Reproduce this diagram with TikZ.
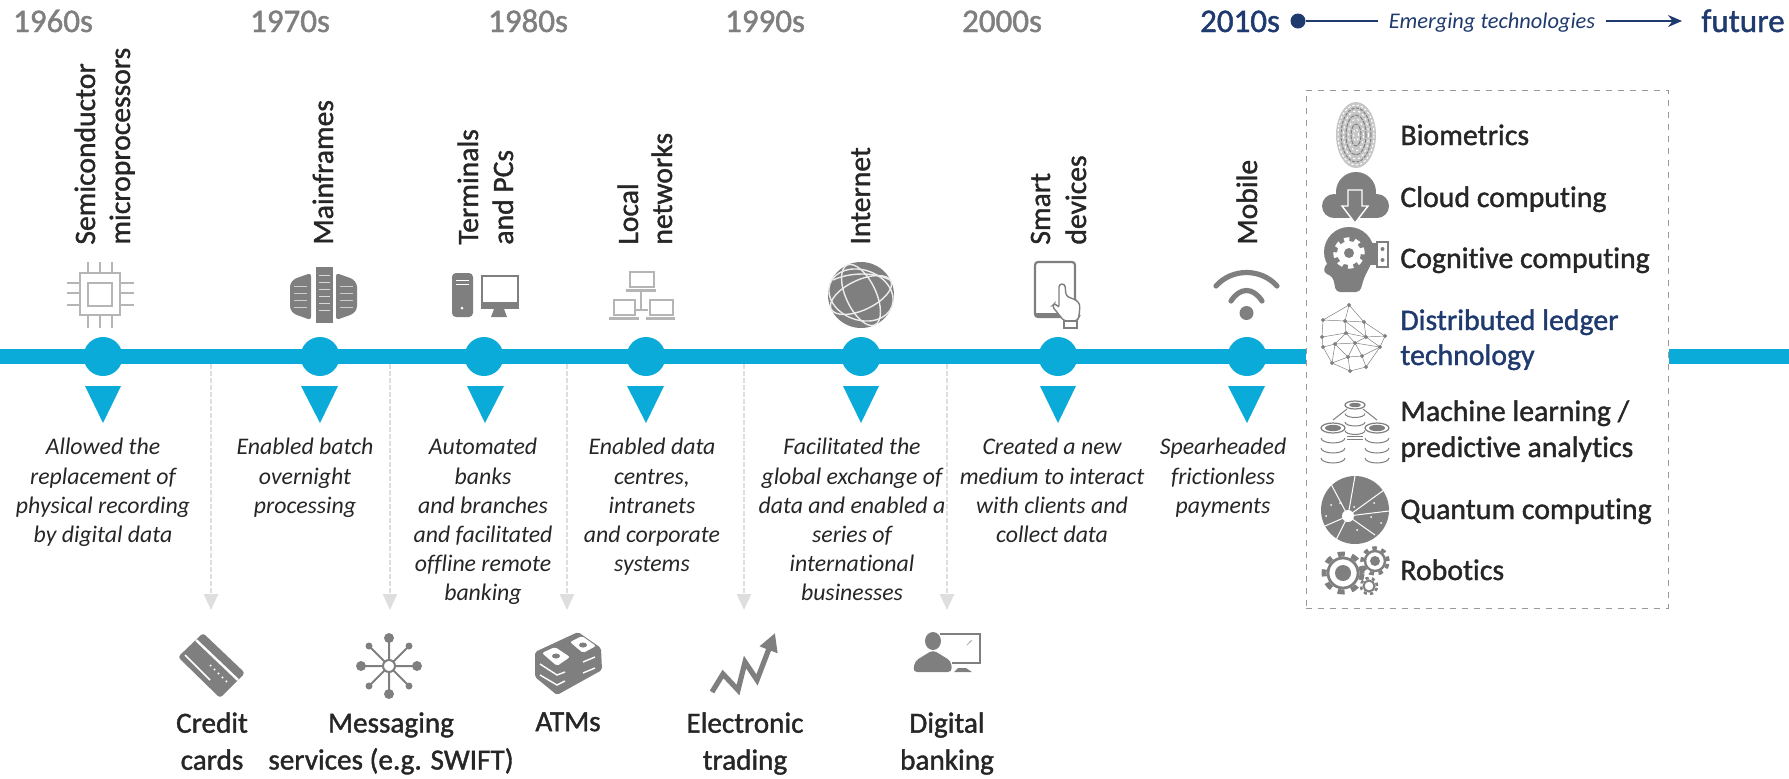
\documentclass[tikz,border=0pt]{standalone}
\usepackage{fontspec}
\setmainfont{Carlito}[Ligatures=NoCommon]
\newfontfamily\semifont{Carlito}[FakeBold=1.3,Ligatures=NoCommon]
\usetikzlibrary{arrows.meta}
\definecolor{tlblue}{HTML}{0AABD9}
\definecolor{navy}{HTML}{1F3A6E}
\definecolor{icongray}{HTML}{7F7F7F}
\definecolor{lightgray}{HTML}{B5B5B5}
\definecolor{droppale}{HTML}{DEDEDE}
\definecolor{inktext}{HTML}{262626}
\tikzset{
  yearold/.style={anchor=base,text=icongray,font=\fontsize{16.5}{18}\selectfont\semifont},
  yearnew/.style={anchor=base,text=navy,font=\fontsize{16.5}{18}\selectfont\semifont},
  techlabel/.style={rotate=90,anchor=base west,text=inktext,inner sep=0pt,font=\fontsize{14.8}{16}\selectfont\semifont},
  descr/.style={anchor=north,align=center,inner sep=0pt,text=inktext,font=\fontsize{11.9}{14.6}\selectfont\itshape},
  product/.style={anchor=north,align=center,inner sep=0pt,text=inktext,font=\fontsize{14.6}{18.5}\selectfont\semifont},
  listitem/.style={anchor=base west,inner sep=0pt,text=inktext,font=\fontsize{14.9}{16}\selectfont\semifont},
  listitemblue/.style={listitem,text=navy},
  tlnode/.style={circle,fill=tlblue,minimum size=19.5pt,inner sep=0pt},
  tlline/.style={tlblue,line width=7.5pt},
  drop/.style={droppale,line width=1.2pt,dash pattern=on 2.5pt off 1pt,-{Triangle[length=8pt,width=7pt]}},
  listbox/.style={draw=gray!80,dashed,line width=0.5pt,minimum width=181pt,minimum height=259pt,inner sep=0pt},
  thinicon/.style={lightgray,line width=1pt},
  netline/.style={icongray,line width=0.25pt},
  topline/.style={navy,line width=0.8pt}
}
\newcommand{\dbstack}[5]{%
  \draw[icongray,line width=0.6pt] (#1,#2) ellipse[x radius=#3,y radius=#4];
  \fill[icongray] (#1,#2) ellipse[x radius=#3-4,y radius=#4-1.8];
  \draw[icongray,line width=0.5pt] (#1-#3,#2-#5) arc[start angle=180,end angle=360,x radius=#3,y radius=#4];
  \draw[icongray,line width=0.5pt] (#1-#3,#2-2*#5) arc[start angle=180,end angle=360,x radius=#3,y radius=#4];
  \draw[icongray,line width=0.5pt] (#1-#3,#2-3*#5) arc[start angle=180,end angle=360,x radius=#3,y radius=#4];
}
\begin{document}
\begin{tikzpicture}[x=0.5pt,y=0.5pt]
\useasboundingbox (0,-778) rectangle (1789,0);
% decades
\node[yearold] (y1960) at (53,-32) {1960s};
\node[yearold] (y1970) at (290,-32) {1970s};
\node[yearold] (y1980) at (528,-32) {1980s};
\node[yearold] (y1990) at (765,-32) {1990s};
\node[yearold] (y2000) at (1002,-32) {2000s};
\node[yearnew] (y2010) at (1240,-32) {2010s};
\node[yearnew] (yfuture) at (1743,-32) {future};
\node[anchor=base,text=navy,inner xsep=5.5pt,inner ysep=0pt,font=\fontsize{11.2}{14}\selectfont\itshape] (emerging) at (1492,-28) {Emerging technologies};
\node[circle,fill=navy,minimum size=7.5pt,inner sep=0pt] (startdot) at (1298,-21) {};
\coordinate (arrowend) at (1682,-21);
\draw[topline] (startdot) -- (emerging.west |- startdot);
\draw[topline,-{Stealth[length=7pt,width=6pt]}] (emerging.east |- startdot) -- (arrowend);
% timeline
\node[listbox] (techbox) at (1487,-349) {};
\coordinate (tlstart) at (0,-356.5);
\coordinate (tlend) at (1789,-356.5);
\draw[tlline] (tlstart) -- (techbox.west |- tlstart);
\draw[tlline] (techbox.east |- tlend) -- (tlend);
\node[tlnode] (n60) at (103,-356.5) {};
\node[tlnode] (n70) at (320,-356.5) {};
\node[tlnode] (n75) at (484,-356.5) {};
\node[tlnode] (n80) at (646,-356.5) {};
\node[tlnode] (n90) at (861,-356.5) {};
\node[tlnode] (n00) at (1058,-356.5) {};
\node[tlnode] (n10) at (1247,-356.5) {};
\fill[tlblue] (85,-386) -- (121,-386) -- (103,-423) -- cycle;
\fill[tlblue] (301,-386) -- (338,-386) -- (320,-423) -- cycle;
\fill[tlblue] (467,-386) -- (504,-386) -- (485,-423) -- cycle;
\fill[tlblue] (627,-386) -- (664,-386) -- (646,-423) -- cycle;
\fill[tlblue] (843,-386) -- (879,-386) -- (861,-423) -- cycle;
\fill[tlblue] (1040,-386) -- (1076,-386) -- (1058,-423) -- cycle;
\fill[tlblue] (1228,-386) -- (1265,-386) -- (1247,-423) -- cycle;
% labels above
\node[techlabel] (semi) at (95,-245) {Semiconductor};
\node[techlabel] (micro) at (130,-245) {microprocessors};
\node[techlabel] (main) at (333,-245) {Mainframes};
\node[techlabel] (term) at (478,-245) {Terminals};
\node[techlabel] (pcs) at (513,-245) {and PCs};
\node[techlabel] (local) at (638,-245) {Local};
\node[techlabel] (netw) at (672,-245) {networks};
\node[techlabel] (inet) at (870,-245) {Internet};
\node[techlabel] (smart) at (1050,-245) {Smart};
\node[techlabel] (devic) at (1086,-245) {devices};
\node[techlabel] (mobile) at (1257,-245) {Mobile};
% descriptions
\node[descr] (d60) at (103,-438) {Allowed the\\replacement of\\physical recording\\by digital data};
\node[descr] (d70) at (305,-438) {Enabled batch\\overnight\\processing};
\node[descr] (d75) at (483,-438) {Automated\\banks\\and branches\\and facilitated\\offline remote\\banking};
\node[descr] (d80) at (652,-438) {Enabled data\\centres,\\intranets\\and corporate\\systems};
\node[descr] (d90) at (852,-438) {Facilitated the\\global exchange of\\data and enabled a\\series of\\international\\businesses};
\node[descr] (d00) at (1052,-438) {Created a new\\medium to interact\\with clients and\\collect data};
\node[descr] (d10) at (1223,-438) {Spearheaded\\frictionless\\payments};
% drops
\coordinate (s1) at (211,-364);
\coordinate (e1) at (211,-610);
\coordinate (s2) at (390,-364);
\coordinate (e2) at (390,-610);
\coordinate (s3) at (567,-364);
\coordinate (e3) at (567,-610);
\coordinate (s4) at (744,-364);
\coordinate (e4) at (744,-610);
\coordinate (s5) at (947,-364);
\coordinate (e5) at (947,-610);
\draw[drop] (s1) -- (e1);
\draw[drop] (s2) -- (e2);
\draw[drop] (s3) -- (e3);
\draw[drop] (s4) -- (e4);
\draw[drop] (s5) -- (e5);
% products
\node[product] (p1) at (212,-712) {Credit\\cards};
\node[product] (p2) at (391,-712) {Messaging\\services (e.g. SWIFT)};
\node[product] (p3) at (568,-712) {ATMs};
\node[product] (p4) at (745,-712) {Electronic\\trading};
\node[product] (p5) at (947,-712) {Digital\\banking};
% list
\node[listitem] (l1) at (1400,-145) {Biometrics};
\node[listitem] (l2) at (1400,-207) {Cloud computing};
\node[listitem] (l3) at (1400,-268) {Cognitive computing};
\node[listitemblue] (l4) at (1400,-330) {Distributed ledger};
\node[listitemblue] (l4b) at (1400,-365) {technology};
\node[listitem] (l5) at (1400,-421) {Machine learning /};
\node[listitem] (l5b) at (1400,-457) {predictive analytics};
\node[listitem] (l6) at (1400,-519) {Quantum computing};
\node[listitem] (l7) at (1400,-580) {Robotics};
% chip
\draw[thinicon] (80,-273) rectangle (120,-315);
\draw[thinicon] (88,-283) rectangle (112,-306);
\draw[thinicon] (88,-262) -- (88,-273) (100,-262) -- (100,-273) (112,-262) -- (112,-273);
\draw[thinicon] (88,-315) -- (88,-328) (100,-315) -- (100,-328) (112,-315) -- (112,-328);
\draw[thinicon] (67,-283) -- (80,-283) (67,-293) -- (80,-293) (67,-305) -- (80,-305);
\draw[thinicon] (120,-283) -- (134,-283) (120,-293) -- (134,-293) (120,-305) -- (134,-305);
% mainframe
\fill[icongray] (316,-267) rectangle (333,-323);
\fill[icongray,rounded corners=1.5pt] (311,-273) -- (294,-279) -- (290,-284) -- (290,-309) -- (294,-314) -- (311,-320) -- cycle;
\fill[icongray,rounded corners=1.5pt] (336,-273) -- (353,-279) -- (357,-284) -- (357,-309) -- (353,-314) -- (336,-320) -- cycle;
\draw[white!70!icongray,line width=0.35pt] (319,-275) -- (330,-275) (319,-282) -- (330,-282) (319,-289) -- (330,-289) (319,-296) -- (330,-296) (319,-303) -- (330,-303) (319,-310) -- (330,-310);
\draw[white!60!icongray,line width=0.35pt] (294,-286) -- (307,-286) (294,-293) -- (307,-293) (294,-300) -- (307,-300) (294,-307) -- (307,-307) (340,-286) -- (353,-286) (340,-293) -- (353,-293) (340,-300) -- (353,-300) (340,-307) -- (353,-307);
% pc
\fill[icongray,rounded corners=2pt] (452,-273) rectangle (473,-317);
\draw[white,line width=0.5pt] (456,-280) -- (469,-280) (456,-284) -- (469,-284);
\fill[white] (462,-308) circle (1.5);
\draw[icongray,line width=1.2pt] (482,-276) rectangle (518,-304);
\fill[icongray] (481,-302) rectangle (519,-309);
\fill[icongray] (494,-309) -- (504,-309) -- (507,-317) -- (491,-317) -- cycle;
% lan
\draw[thinicon] (630,-272) rectangle (654,-287);
\draw[thinicon,line width=1.5pt] (626,-290) -- (656,-290);
\draw[thinicon] (614,-300) rectangle (635,-315);
\draw[thinicon,line width=1.5pt] (609,-318) -- (639,-318);
\draw[thinicon] (650,-300) rectangle (673,-315);
\draw[thinicon,line width=1.5pt] (646,-318) -- (675,-318);
\draw[thinicon] (641,-290) -- (641,-310) (636,-310) -- (648,-310);
% globe
\fill[icongray] (861,-295) circle (33);
\draw[white!85!icongray,line width=0.7pt,rotate around={25:(861,-295)}] (861,-295) ellipse[x radius=33,y radius=15];
\draw[white!85!icongray,line width=0.7pt,rotate around={-65:(861,-295)}] (861,-295) ellipse[x radius=33,y radius=15];
\draw[white!85!icongray,line width=0.7pt,rotate around={-20:(861,-295)}] (861,-295) ellipse[x radius=33,y radius=25];
\draw[white!85!icongray,line width=0.7pt] (833,-280) .. controls (850,-272) and (875,-272) .. (890,-280);
% tablet
\draw[icongray,line width=1.1pt,rounded corners=1.5pt] (1035,-262) rectangle (1075,-317);
\fill[icongray] (1035,-313) rectangle (1060,-317);
\draw[icongray,line width=0.7pt,fill=white,rounded corners=1.5pt] (1059,-284) -- (1065,-284) -- (1066,-296) -- (1071,-298) -- (1076,-300) -- (1080,-304) -- (1079,-317) -- (1077,-321) -- (1064,-321) -- (1052,-306) -- (1055,-303) -- (1059,-308) -- cycle;
\draw[icongray,line width=0.7pt,fill=white] (1064,-321) rectangle (1077,-328);
% wifi
\draw[icongray,line width=2.6pt,line cap=round] (1216,-286) .. controls (1232,-268) and (1261,-268) .. (1277,-286);
\draw[icongray,line width=2.6pt,line cap=round] (1231,-301) .. controls (1240,-287) and (1253,-287) .. (1262,-301);
\fill[icongray] (1246.5,-313) circle (7);
% credit card
\fill[icongray,rounded corners=1.5pt] (203,-633) -- (245,-673) -- (220,-698) -- (178,-657) -- cycle;
\draw[white,line width=1.2pt] (196,-640) -- (238,-680);
\draw[white,line width=0.8pt] (185,-655) -- (210,-680);
\draw[white,line width=0.8pt,dotted] (210,-665) -- (228,-683);
% messaging
\draw[icongray,line width=1pt] (361,-666) -- (417,-666) (389,-638) -- (389,-694) (369,-646) -- (409,-686) (369,-686) -- (409,-646);
\fill[icongray] (389,-638) circle (5) (389,-694) circle (5) (361,-666) circle (5) (417,-666) circle (5);
\fill[icongray] (369,-646) circle (3.5) (409,-646) circle (3.5) (369,-686) circle (3.5) (409,-686) circle (3.5);
\draw[icongray,line width=1pt,fill=white] (389,-666) circle (6);
% atm
\fill[icongray,rounded corners=1pt] (535,-652) -- (578,-632) -- (601,-648) -- (602,-670) -- (557,-695) -- (535,-677) -- cycle;
\fill[white,rounded corners=1pt] (542,-653) -- (555,-647) -- (570,-657) -- (557,-666) -- cycle;
\fill[white,rounded corners=1pt] (570,-642) -- (582,-636) -- (596,-646) -- (583,-653) -- cycle;
\fill[icongray] (556,-656) ellipse[x radius=4,y radius=2.5];
\fill[icongray] (583,-645) ellipse[x radius=4,y radius=2.5];
\draw[white,line width=0.7pt] (540,-664) -- (557,-675) -- (565,-672) (540,-675) -- (557,-685) -- (565,-681);
\draw[white,line width=0.7pt] (583,-662) -- (595,-657) (583,-673) -- (595,-668);
% trading
\draw[icongray,line width=2.6pt,-{Triangle[length=9pt,width=9pt]}] (712,-692) -- (723,-674) -- (738,-690) -- (745,-662) -- (757,-680) -- (775,-633);
% digital banking
\draw[icongray,line width=1pt] (940,-634) -- (980,-634) -- (980,-663) -- (952,-663);
\fill[icongray] (933,-641) ellipse[x radius=8,y radius=9];
\fill[icongray,rounded corners=2pt] (913,-672) -- (915,-661) -- (933,-650) -- (951,-661) -- (952,-672) -- cycle;
\fill[icongray] (954,-672) -- (958,-668) -- (966,-668) -- (972,-672) -- cycle;
\draw[white!40!icongray,line width=0.4pt,-{Stealth[length=1.5pt]}] (967,-645) -- (972,-640);
% fingerprint
\fill[gray!45] (1356,-135) ellipse[x radius=20,y radius=33];
\draw[white,line width=0.5pt,dash pattern=on 1.2pt off 1pt] (1356,-135) ellipse[x radius=18,y radius=30];
\draw[gray,line width=0.5pt,dash pattern=on 1.5pt off 0.7pt] (1356,-135) ellipse[x radius=15,y radius=27];
\draw[white,line width=0.5pt,dash pattern=on 1.1pt off 1.4pt] (1356,-135) ellipse[x radius=12.5,y radius=24];
\draw[gray,line width=0.5pt,dash pattern=on 2pt off 0.6pt] (1356,-135) ellipse[x radius=10,y radius=20];
\draw[white,line width=0.5pt,dash pattern=on 1pt off 1.6pt] (1356,-135) ellipse[x radius=7.5,y radius=16];
\draw[gray,line width=0.5pt,dash pattern=on 2pt off 0.6pt] (1356,-135) ellipse[x radius=5,y radius=11];
\draw[white,line width=0.5pt,dash pattern=on 1pt off 1.2pt] (1356,-135) ellipse[x radius=2.5,y radius=6];
% cloud
\fill[icongray] (1356,-192) circle (20) (1334,-206) circle (12) (1377,-206) circle (12);
\fill[icongray] (1334,-218) rectangle (1377,-200);
\draw[white,fill=icongray,line width=0.7pt] (1348,-190) -- (1362,-190) -- (1362,-206) -- (1368,-206) -- (1355,-223) -- (1342,-206) -- (1348,-206) -- cycle;
% head
\fill[icongray] (1349,-252) circle (25);
\fill[icongray,rounded corners=2pt] (1327,-262) -- (1323,-272) -- (1333,-277) -- (1336,-292) -- (1360,-292) -- (1364,-278) -- (1372,-262) -- cycle;
\draw[white,line width=2.2pt,dash pattern=on 2.6pt off 2.6pt] (1349,-253) circle (13.5);
\fill[white] (1349,-253) circle (12);
\fill[icongray] (1349,-253) circle (5);
\fill[icongray] (1370,-243) rectangle (1377,-265);
\draw[icongray,line width=0.8pt] (1377,-242) rectangle (1388,-267);
\fill[icongray] (1382.5,-249) circle (2) (1382.5,-260) circle (2);
% ledger sphere
\draw[netline] (1349,-305) -- (1364,-322) -- (1385,-336) -- (1380,-347) -- (1366,-367) -- (1350,-371) -- (1332,-363) -- (1323,-347) -- (1322,-337) -- (1323,-320) -- (1349,-305) -- (1345,-321) -- (1346,-333) -- (1355,-343) -- (1348,-357) -- (1350,-371);
\draw[netline] (1323,-320) -- (1345,-321) -- (1364,-322) -- (1366,-337) -- (1385,-336) (1322,-337) -- (1346,-333) -- (1366,-337) -- (1355,-343) -- (1335,-344) -- (1323,-347) (1335,-344) -- (1332,-363) -- (1348,-357) -- (1362,-356) -- (1366,-367) (1355,-343) -- (1362,-356) -- (1380,-347) -- (1366,-337) (1346,-333) -- (1335,-344) -- (1348,-357) (1345,-321) -- (1366,-337) (1355,-343) -- (1380,-347);
\draw[icongray] plot[only marks,mark=*,mark size=0.75pt] coordinates {(1349,-305) (1323,-320) (1345,-321) (1364,-322) (1322,-337) (1346,-333) (1366,-337) (1385,-336) (1323,-347) (1335,-344) (1355,-343) (1380,-347) (1332,-363) (1348,-357) (1362,-356) (1350,-371) (1366,-367)};
% databases
\dbstack{1355}{-405}{10}{4}{8.5}
\dbstack{1333}{-428}{12}{5}{10}
\dbstack{1377}{-428}{12}{5}{10}
\draw[icongray,line width=0.5pt] (1347,-409) -- (1333,-420) (1363,-409) -- (1377,-420);
\draw[icongray,line width=0.5pt] (1347,-436) -- (1363,-436) (1347,-439) -- (1363,-439);
% quantum
\fill[icongray] (1355,-510) circle (34);
\draw[white,line width=0.5pt] (1348,-516) -- (1355,-476) (1348,-516) -- (1384,-490) (1348,-516) -- (1389,-511) (1348,-516) -- (1375,-535) (1348,-516) -- (1325,-526) (1348,-516) -- (1335,-542) (1348,-516) -- (1331,-484);
\fill[white] (1348,-516) circle (6);
\fill[white] (1331,-505) circle (1) (1340,-503) circle (1) (1354,-507) circle (1) (1374,-503) circle (1) (1371,-517) circle (1) (1326,-516) circle (1) (1357,-530) circle (1) (1381,-523) circle (1);
% gears
\draw[icongray,line width=1.4pt] (1343,-573) circle (15);
\draw[icongray,line width=2.5pt,dash pattern=on 3.5pt off 3.5pt] (1343,-573) circle (19);
\fill[icongray] (1343,-573) circle (8);
\draw[icongray,line width=1.2pt] (1375,-561) circle (10);
\draw[icongray,line width=1.8pt,dash pattern=on 2.3pt off 2.3pt] (1375,-561) circle (13);
\fill[icongray] (1375,-561) circle (5);
\draw[icongray,line width=1pt] (1369,-586) circle (5.5);
\draw[icongray,line width=1.3pt,dash pattern=on 1.6pt off 1.6pt] (1369,-586) circle (8);
\end{tikzpicture}
\end{document}
